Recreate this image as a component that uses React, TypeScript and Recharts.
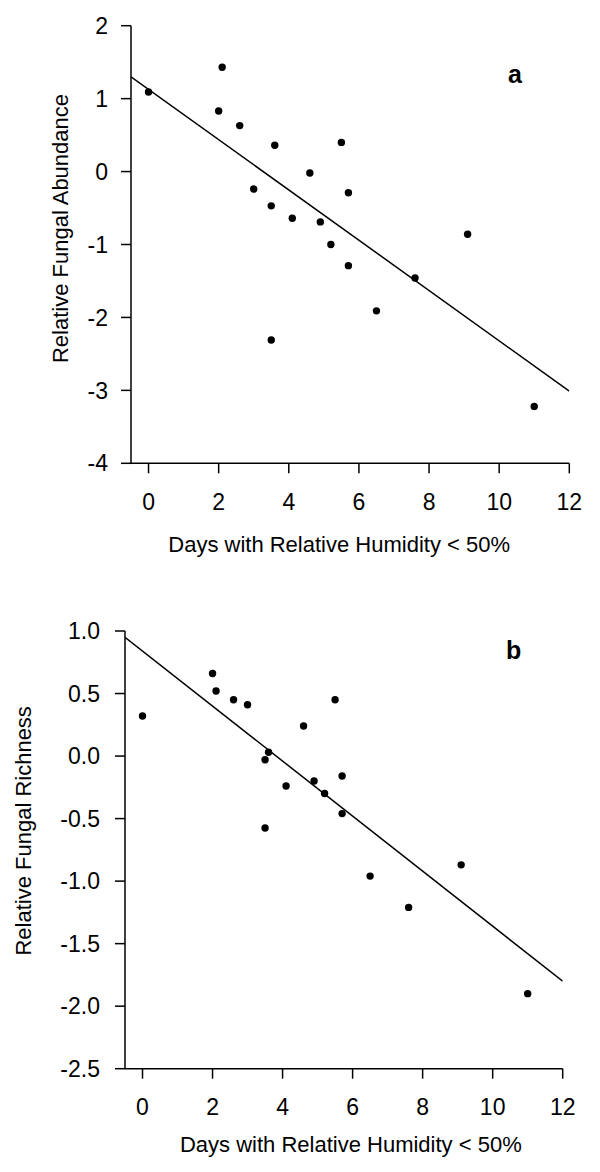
import { Scatter, ScatterChart, XAxis, YAxis } from "recharts";

// shared x values (days with RH < 50%)
const days = [0, 2.0, 2.1, 2.6, 3.0, 3.5, 3.5, 3.6, 4.1, 4.6, 4.9, 5.2, 5.5, 5.7, 5.7, 6.5, 7.6, 9.1, 11.0];

// panel a
const abundance = [1.09, 0.83, 1.43, 0.63, -0.24, -0.47, -2.31, 0.36, -0.64, -0.02, -0.69, -1.0, 0.4, -0.29, -1.29, -1.91, -1.46, -0.86, -3.22];
const fitA = [
  { x: -0.5, y: 1.3 },
  { x: 12, y: -3.01 },
];

// panel b
const richness = [0.32, 0.66, 0.52, 0.45, 0.41, -0.03, -0.575, 0.03, -0.24, 0.24, -0.2, -0.3, 0.45, -0.16, -0.46, -0.96, -1.21, -0.87, -1.9];
const fitB = [
  { x: -0.5, y: 0.95 },
  { x: 12, y: -1.8 },
];

const xTicks = [0, 2, 4, 6, 8, 10, 12];
const yTicksA = [-4, -3, -2, -1, 0, 1, 2];
const yTicksB = [-2.5, -2, -1.5, -1, -0.5, 0, 0.5, 1];

const pointsA = days.map((x, i) => ({ x, y: abundance[i] }));
const pointsB = days.map((x, i) => ({ x, y: richness[i] }));

const font = "'Liberation Sans', Arial, Helvetica, sans-serif";
const tickStyle = { fill: "#000", fontSize: 23, fontFamily: font };
const axisLine = { stroke: "#000", strokeWidth: 1.5 };

function Dot(props: any) {
  const { cx, cy } = props;
  return <circle cx={cx} cy={cy} r={3.7} fill="#000" />;
}

function XTitle(props: any) {
  const { viewBox, text, shiftX, shiftY } = props;
  if (!viewBox) return null;
  return (
    <text
      x={viewBox.x + viewBox.width / 2 + shiftX}
      y={viewBox.y + shiftY}
      textAnchor="middle"
      fontSize={22}
      fontFamily={font}
      fill="#000"
    >
      {text}
    </text>
  );
}

function YTitle(props: any) {
  const { viewBox, text, baseX, shiftY } = props;
  if (!viewBox) return null;
  const cy = viewBox.y + viewBox.height / 2 + shiftY;
  return (
    <text
      x={baseX}
      y={cy}
      transform={`rotate(-90 ${baseX} ${cy})`}
      textAnchor="middle"
      fontSize={22}
      fontFamily={font}
      fill="#000"
    >
      {text}
    </text>
  );
}

const panelLetter = {
  position: "absolute" as const,
  fontFamily: font,
  fontWeight: 700,
  fontSize: 25,
  lineHeight: 1,
  color: "#000",
};

export default function App() {
  return (
    <div style={{ position: "absolute", left: 0, top: 0, width: 600, height: 1172, background: "#fff" }}>
      {/* Panel a */}
      <div style={{ position: "absolute", left: 0, top: 0 }}>
        <ScatterChart width={600} height={580} margin={{ top: 25.7, right: 30.7, bottom: 0, left: 0 }}>
          <XAxis
            type="number"
            dataKey="x"
            domain={[-0.5, 12]}
            ticks={xTicks}
            allowDataOverflow
            height={116.7}
            tickSize={10}
            tickMargin={20}
            axisLine={axisLine}
            tickLine={axisLine}
            tick={tickStyle}
            label={<XTitle text="Days with Relative Humidity < 50%" shiftX={-11} shiftY={88.4} />}
          />
          <YAxis
            type="number"
            dataKey="y"
            domain={[-4, 2]}
            ticks={yTicksA}
            allowDataOverflow
            width={131}
            tickSize={10}
            tickMargin={13}
            axisLine={axisLine}
            tickLine={axisLine}
            tick={tickStyle}
            label={<YTitle text="Relative Fungal Abundance" baseX={68} shiftY={-16} />}
          />
          <Scatter
            data={fitA}
            line={{ stroke: "#000", strokeWidth: 1.5 }}
            shape={() => <g />}
            isAnimationActive={false}
          />
          <Scatter data={pointsA} shape={<Dot />} isAnimationActive={false} />
        </ScatterChart>
        <div style={{ ...panelLetter, left: 508, top: 62 }}>a</div>
      </div>

      {/* Panel b */}
      <div style={{ position: "absolute", left: 0, top: 580 }}>
        <ScatterChart width={600} height={592} margin={{ top: 51, right: 37.3, bottom: 0, left: 0 }}>
          <XAxis
            type="number"
            dataKey="x"
            domain={[-0.5, 12]}
            ticks={xTicks}
            allowDataOverflow
            height={103.3}
            tickSize={10}
            tickMargin={20}
            axisLine={axisLine}
            tickLine={axisLine}
            tick={tickStyle}
            label={<XTitle text="Days with Relative Humidity < 50%" shiftX={7} shiftY={83.3} />}
          />
          <YAxis
            type="number"
            dataKey="y"
            domain={[-2.5, 1]}
            ticks={yTicksB}
            allowDataOverflow
            width={125}
            tickSize={10}
            tickMargin={15}
            tickFormatter={(v: number) => v.toFixed(1)}
            axisLine={axisLine}
            tickLine={axisLine}
            tick={tickStyle}
            label={<YTitle text="Relative Fungal Richness" baseX={31} shiftY={-19} />}
          />
          <Scatter
            data={fitB}
            line={{ stroke: "#000", strokeWidth: 1.5 }}
            shape={() => <g />}
            isAnimationActive={false}
          />
          <Scatter data={pointsB} shape={<Dot />} isAnimationActive={false} />
        </ScatterChart>
        <div style={{ ...panelLetter, left: 506, top: 58 }}>b</div>
      </div>
    </div>
  );
}
